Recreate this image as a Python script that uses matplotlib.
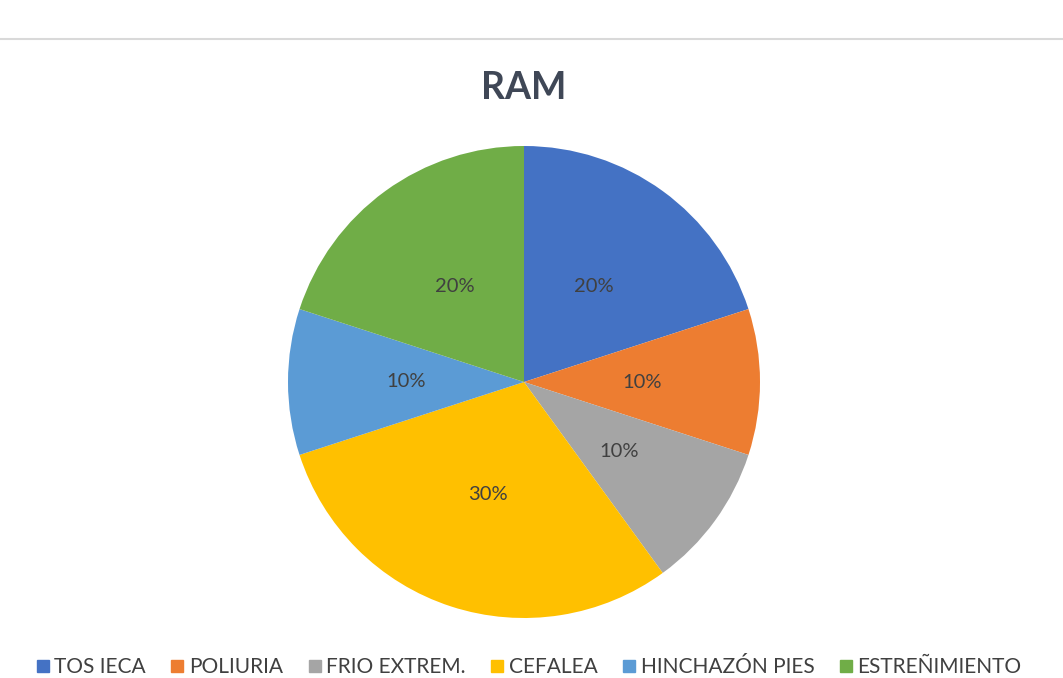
import matplotlib
matplotlib.use("Agg")
import matplotlib.pyplot as plt
from matplotlib.lines import Line2D

categories = ["TOS IECA", "POLIURIA", "FRIO EXTREM.", "CEFALEA", "HINCHAZÓN PIES", "ESTREÑIMIENTO"]
values = [20, 10, 10, 30, 10, 20]
colors = ["#4472C4", "#ED7D31", "#A5A5A5", "#FFC000", "#5B9BD5", "#70AD47"]
title = "RAM"

plt.rcParams['font.family'] = ['Lato', 'DejaVu Sans']

fig = plt.figure(figsize=(10.63, 6.78), dpi=100)
fig.patch.set_facecolor("white")

# top separator line
fig.add_artist(Line2D([0, 1], [1 - 39/678, 1 - 39/678], color="#D9D9D9", lw=1.5, transform=fig.transFigure))

ax = fig.add_axes([(524 - 236) / 1063, (678 - 618) / 678, 472 / 1063, 472 / 678])
wedges, texts, autotexts = ax.pie(
    values, colors=colors, startangle=90, counterclock=False,
    autopct=lambda p: f"{p:.0f}%", pctdistance=0.5,
    wedgeprops=dict(linewidth=0),
    textprops=dict(color="#404040", fontsize=14.5),
)
ax.set_xlim(-1, 1)
ax.set_ylim(-1, 1)
ax.set_aspect("equal")

fig.text(524 / 1063, 1 - 88 / 678, title, ha="center", va="center",
         fontsize=27, fontweight="bold", color="#3F4756")

handles = [Line2D([], [], marker="s", linestyle="", markersize=8,
                  markerfacecolor=c, markeredgecolor=c) for c in colors]
fig.legend(handles, categories, loc="center", bbox_to_anchor=(529 / 1063, 1 - 667 / 678),
           ncol=6, frameon=False, fontsize=15, handlelength=0.6, handletextpad=0.25,
           columnspacing=1.22, labelcolor="#404040")

fig.savefig("out.png", dpi=100, facecolor="white")
